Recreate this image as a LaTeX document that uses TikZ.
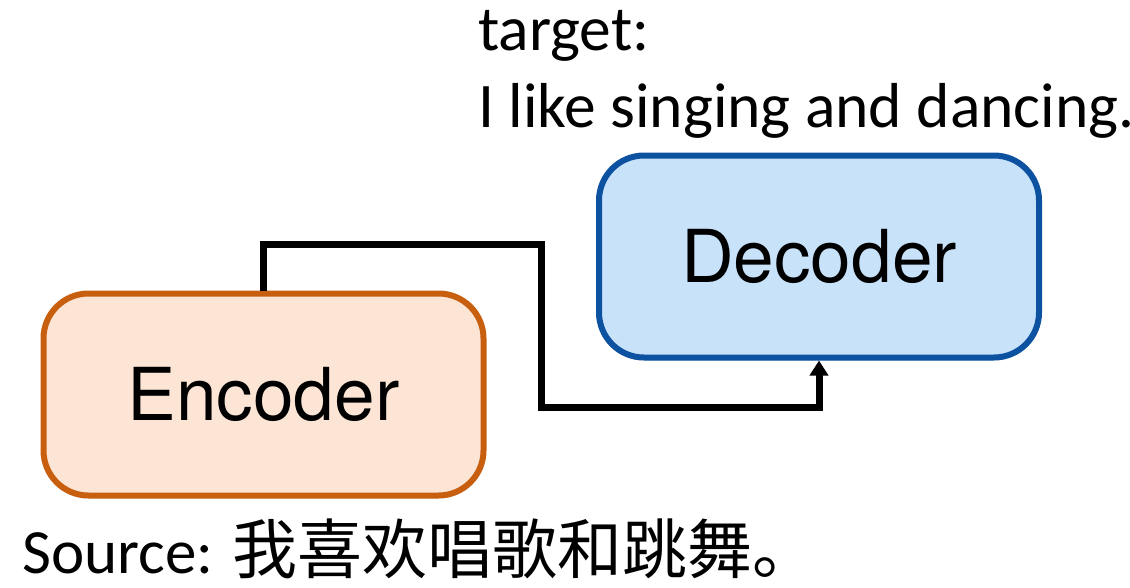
\documentclass[tikz,border=0pt]{standalone}
\usepackage{fontspec}
\setmainfont{Carlito}
\newfontfamily\boxfont{TeX Gyre Heros}
\newfontfamily\cjkfont{Noto Sans CJK SC}
\usetikzlibrary{arrows.meta,positioning,shadows}

\definecolor{encline}{RGB}{200,95,15}
\definecolor{encfill}{RGB}{252,229,213}
\definecolor{decline}{RGB}{12,82,160}
\definecolor{decfill}{RGB}{200,226,250}

\tikzset{
  block/.style={rounded corners=45pt, line width=6pt, minimum width=440pt,
    minimum height=202pt, font=\boxfont\fontsize{73}{80}\selectfont,
    drop shadow={opacity=0.18, shadow xshift=-1pt, shadow yshift=-3pt}},
  conn/.style={line width=7pt, -{Triangle[length=15pt,width=18pt]}},
  label/.style={inner sep=0pt, anchor=base west}
}

\begin{document}
\begin{tikzpicture}[x=1pt,y=-1pt]
    \useasboundingbox (0,0) rectangle (1130,587);

    % The two blocks
    \node[block, draw=encline, fill=encfill] (enc) at (263.5,394.5) {Encoder};
    \node[block, draw=decline, fill=decfill] (dec) at (819,256.5) {Decoder};

    % Encoder output goes round to the decoder
    \draw[conn] (enc.north) |- (541,244) -- (541,407) -| (dec.south);

    % Sentences
    \node[label, font=\fontsize{63.5}{77}\selectfont] (tgt) at (478,50) {target:};
    \node[label, font=\fontsize{63.5}{77}\selectfont] (tgtline) at (478,127)
      {I like singing and dancing.};
    \node[label, font=\fontsize{63}{77}\selectfont] (src) at (22,573)
      {Source: {\cjkfont\fontsize{65}{77}\selectfont 我喜欢唱歌和跳舞。}};
\end{tikzpicture}
\end{document}
